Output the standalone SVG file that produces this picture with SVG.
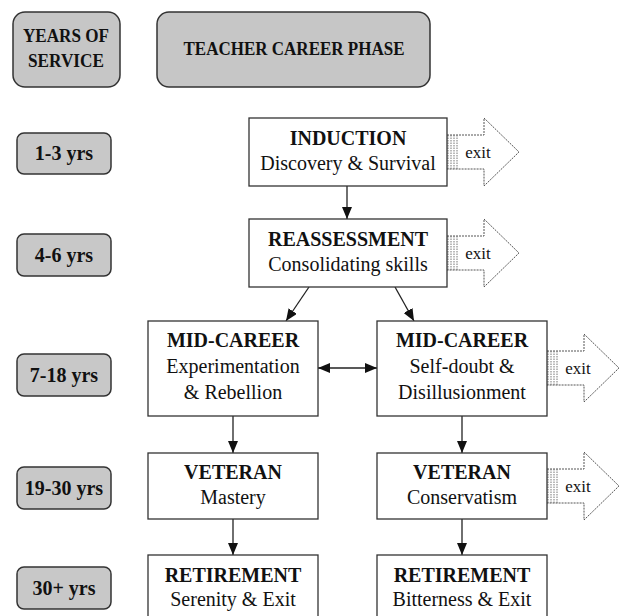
<svg xmlns="http://www.w3.org/2000/svg" width="621" height="616" viewBox="0 0 621 616">
<style>
.hdr{fill:#c6c6c6;stroke:#333;stroke-width:1.5}
.yr{fill:#c8c8c8;stroke:#333;stroke-width:1.5}
.box{fill:#fff;stroke:#333;stroke-width:1.3}
.t{font-family:"Liberation Serif","Times New Roman",serif;fill:#111;text-anchor:middle}
.b{font-weight:bold}
.h{font-size:18px}
.y{font-size:20px}
.n{font-size:20px}
.ex{font-size:17px}
.ln{stroke:#222;stroke-width:1.3;fill:none}
.arr{fill:#fff;stroke:#555;stroke-width:1;stroke-dasharray:2,1}
.st{stroke:#777;stroke-width:1;stroke-dasharray:1.5,1}
</style>
<defs>
<marker id="ah" viewBox="0 0 12 10" refX="12" refY="5" markerWidth="12" markerHeight="10" markerUnits="userSpaceOnUse" orient="auto-start-reverse">
<path d="M0,0 L12,5 L0,10 Z" fill="#111"/>
</marker>
<g id="exitShape">
<path class="arr" d="M0,-17 H37 V-34 L72,0 L37,34 V17 H0"/>
<line class="st" x1="1" y1="-17" x2="1" y2="17"/>
<line class="st" x1="4" y1="-17" x2="4" y2="17"/>
<line class="st" x1="7" y1="-17" x2="7" y2="17"/>
<line class="st" x1="10" y1="-17" x2="10" y2="17"/>
<text class="t ex" x="31" y="6">exit</text>
</g>
</defs>
<rect width="621" height="616" fill="#fff"/>

<g id="hdr-years">
<rect class="hdr" x="13" y="12" width="107" height="75" rx="12"/>
<text class="t b h" x="66" y="42" textLength="86" lengthAdjust="spacingAndGlyphs">YEARS OF</text>
<text class="t b h" x="66" y="67" textLength="76" lengthAdjust="spacingAndGlyphs">SERVICE</text>
</g>
<g id="hdr-phase">
<rect class="hdr" x="157" y="12" width="273" height="75" rx="12"/>
<text class="t b h" x="294" y="55" textLength="221" lengthAdjust="spacingAndGlyphs">TEACHER CAREER PHASE</text>
</g>

<g id="yr1"><rect class="yr" x="17" y="133" width="94" height="41" rx="7"/><text class="t b y" x="64" y="160">1-3 yrs</text></g>
<g id="yr2"><rect class="yr" x="17" y="234" width="94" height="42" rx="7"/><text class="t b y" x="64" y="262">4-6 yrs</text></g>
<g id="yr3"><rect class="yr" x="17" y="354" width="94" height="42" rx="7"/><text class="t b y" x="64" y="382">7-18 yrs</text></g>
<g id="yr4"><rect class="yr" x="17" y="467" width="94" height="42" rx="7"/><text class="t b y" x="64" y="495">19-30 yrs</text></g>
<g id="yr5"><rect class="yr" x="17" y="567" width="94" height="42" rx="7"/><text class="t b y" x="64" y="595">30+ yrs</text></g>

<g id="connectors">
<line class="ln" x1="347" y1="186" x2="347" y2="219" marker-end="url(#ah)"/>
<line class="ln" x1="309" y1="287" x2="286" y2="321" marker-end="url(#ah)"/>
<line class="ln" x1="395" y1="287" x2="414" y2="321" marker-end="url(#ah)"/>
<line class="ln" x1="318" y1="368" x2="377" y2="368" marker-start="url(#ah)" marker-end="url(#ah)"/>
<line class="ln" x1="233" y1="416" x2="233" y2="453" marker-end="url(#ah)"/>
<line class="ln" x1="462" y1="416" x2="462" y2="453" marker-end="url(#ah)"/>
<line class="ln" x1="233" y1="519" x2="233" y2="555" marker-end="url(#ah)"/>
<line class="ln" x1="462" y1="519" x2="462" y2="555" marker-end="url(#ah)"/>
</g>

<g id="exit1"><use href="#exitShape" x="447" y="152"/></g>
<g id="exit2"><use href="#exitShape" x="447" y="253"/></g>
<g id="exit3"><use href="#exitShape" x="547" y="368"/></g>
<g id="exit4"><use href="#exitShape" x="547" y="486"/></g>

<g id="induction">
<rect class="box" x="249" y="118" width="198" height="68"/>
<text class="t b n" x="348" y="145">INDUCTION</text>
<text class="t n" x="348" y="170">Discovery &amp; Survival</text>
</g>
<g id="reassessment">
<rect class="box" x="249" y="219" width="198" height="68"/>
<text class="t b n" x="348" y="246">REASSESSMENT</text>
<text class="t n" x="348" y="271">Consolidating skills</text>
</g>
<g id="mid-left">
<rect class="box" x="148" y="321" width="170" height="95"/>
<text class="t b n" x="233" y="347">MID-CAREER</text>
<text class="t n" x="233" y="373">Experimentation</text>
<text class="t n" x="233" y="399">&amp; Rebellion</text>
</g>
<g id="mid-right">
<rect class="box" x="377" y="321" width="170" height="95"/>
<text class="t b n" x="462" y="347">MID-CAREER</text>
<text class="t n" x="462" y="373">Self-doubt &amp;</text>
<text class="t n" x="462" y="399">Disillusionment</text>
</g>
<g id="vet-left">
<rect class="box" x="148" y="453" width="170" height="66"/>
<text class="t b n" x="233" y="479">VETERAN</text>
<text class="t n" x="233" y="504">Mastery</text>
</g>
<g id="vet-right">
<rect class="box" x="377" y="453" width="170" height="66"/>
<text class="t b n" x="462" y="479">VETERAN</text>
<text class="t n" x="462" y="504">Conservatism</text>
</g>
<g id="ret-left">
<rect class="box" x="148" y="555" width="170" height="80"/>
<text class="t b n" x="233" y="582">RETIREMENT</text>
<text class="t n" x="233" y="606">Serenity &amp; Exit</text>
</g>
<g id="ret-right">
<rect class="box" x="377" y="555" width="170" height="80"/>
<text class="t b n" x="462" y="582">RETIREMENT</text>
<text class="t n" x="462" y="606">Bitterness &amp; Exit</text>
</g>
</svg>
